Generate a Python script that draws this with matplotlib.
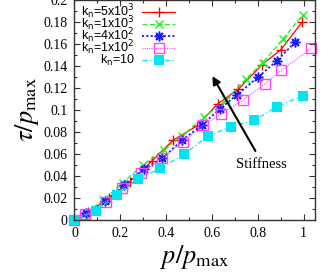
import numpy as np
import matplotlib
matplotlib.use("Agg")
import matplotlib.pyplot as plt
from matplotlib.lines import Line2D

# k_n = 5x10^3
x_5e3 = [0, 0.06, 0.15, 0.243, 0.34, 0.43, 0.535, 0.625, 0.716, 0.818, 0.902, 0.994]
y_5e3 = [0, 0.007, 0.020, 0.035, 0.054, 0.0725, 0.0856, 0.1055, 0.119, 0.141, 0.155, 0.180]
# k_n = 1x10^3
x_1e3 = [0, 0.04, 0.125, 0.21, 0.30, 0.39, 0.469, 0.564, 0.662, 0.749, 0.822, 0.91, 0.997]
y_1e3 = [0, 0.005, 0.018, 0.034, 0.050, 0.064, 0.0764, 0.0933, 0.109, 0.1284, 0.143, 0.1645, 0.1865]
# k_n = 4x10^2
x_4e2 = [0, 0.05, 0.135, 0.217, 0.304, 0.384, 0.469, 0.555, 0.635, 0.71, 0.80, 0.885, 0.965]
y_4e2 = [0, 0.006, 0.017, 0.032, 0.0465, 0.056, 0.0725, 0.086, 0.101, 0.114, 0.1296, 0.145, 0.162]
# k_n = 1x10^2
x_1e2 = [0, 0.047, 0.136, 0.209, 0.29, 0.384, 0.472, 0.563, 0.64, 0.735, 0.833, 0.903, 1.034]
y_1e2 = [0, 0.0055, 0.0168, 0.029, 0.0428, 0.056, 0.071, 0.086, 0.0965, 0.109, 0.124, 0.136, 0.156]
# k_n = 10
x_10 = [0, 0.093, 0.185, 0.277, 0.375, 0.479, 0.584, 0.684, 0.786, 0.885, 0.997]
y_10 = [0, 0.0083, 0.023, 0.0375, 0.047, 0.060, 0.0764, 0.085, 0.0908, 0.103, 0.113]

labels = [r"k$_{\rm n}$=5x10$^{3}$", r"k$_{\rm n}$=1x10$^{3}$", r"k$_{\rm n}$=4x10$^{2}$",
          r"k$_{\rm n}$=1x10$^{2}$", r"k$_{\rm n}$=10"]

plt.rcParams["mathtext.fontset"] = "stix"
serif = "Liberation Serif"

fig = plt.figure(figsize=(3.34, 2.73), dpi=100)
ax = fig.add_axes([0.223, 0.194, 0.72, 0.806])

star = (8, 2, 0)
series = [
    (x_5e3, y_5e3, dict(color="#ff0000", ls="-", marker="+", ms=7, mew=1.0)),
    (x_1e3, y_1e3, dict(color="#22ee22", ls=(0, (4, 2)), marker="x", ms=6, mew=1.0)),
    (x_4e2, y_4e2, dict(color="#1a1aff", ls=(0, (1.2, 1.2)), lw=1.3, marker=star, ms=7, mew=1.1)),
    (x_1e2, y_1e2, dict(color="#ff44ff", ls=(0, (1, 1)), lw=0.8, marker="s", ms=7, mfc="none", mew=1.0)),
    (x_10, y_10, dict(color="#00e5ee", ls=(0, (4, 2, 1, 2)), marker="s", ms=6.5, mew=0)),
]
for xs, ys, st in series:
    kw = dict(lw=0.9)
    kw.update(st)
    ax.plot(xs, ys, clip_on=False, **kw)

ax.set_xlim(0, 1.05)
ax.set_ylim(0, 0.2)
ax.set_xticks(np.arange(0, 1.01, 0.2))
ax.set_xticks(np.arange(0, 1.05, 0.1), minor=True)
ax.set_yticks(np.arange(0, 0.201, 0.02))
ax.set_yticks(np.arange(0, 0.2, 0.01), minor=True)
ax.set_xticklabels(["0", "0.2", "0.4", "0.6", "0.8", "1"])
ax.set_yticklabels(["0", "0.02", "0.04", "0.06", "0.08", "0.1", "0.12", "0.14", "0.16", "0.18", "0.2"])
ax.tick_params(which="both", direction="in", top=True, right=True, color="#333333",
               labelsize=10, width=0.8)
ax.tick_params(which="major", length=4, pad=5)
ax.tick_params(which="minor", length=2.5)
for lab in ax.get_xticklabels() + ax.get_yticklabels():
    lab.set_family(serif)
for sp in ax.spines.values():
    sp.set_color("#333333")
    sp.set_linewidth(1.0)

ax.set_xlabel(r"$p/p_{\rm max}$", fontsize=19, labelpad=2)
ax.set_ylabel(r"$\tau/p_{\rm max}$", fontsize=19, labelpad=2)

# legend, gnuplot style: labels right aligned, sample to the right
for i, (lab, (xs, ys, st)) in enumerate(zip(labels, series)):
    yy = 0.947 - i * 0.055
    ax.text(0.25, yy, lab, transform=ax.transAxes, ha="right", va="center",
            fontsize=9, family="Liberation Sans", math_fontfamily="dejavusans")
    kw = dict(lw=0.9)
    kw.update(st)
    ln = Line2D([0.281, 0.35, 0.418], [yy, yy, yy], transform=ax.transAxes,
                markevery=[1], **kw)
    ax.add_line(ln)

ax.annotate("", xy=(0.596, 0.133), xytext=(0.796, 0.0606),
            arrowprops=dict(arrowstyle="-|>", color="black", lw=1.5, mutation_scale=12))
ax.text(0.818, 0.0505, "Stiffness", family=serif, fontsize=10.5, ha="center", va="center")

fig.savefig("out.png", dpi=100)
